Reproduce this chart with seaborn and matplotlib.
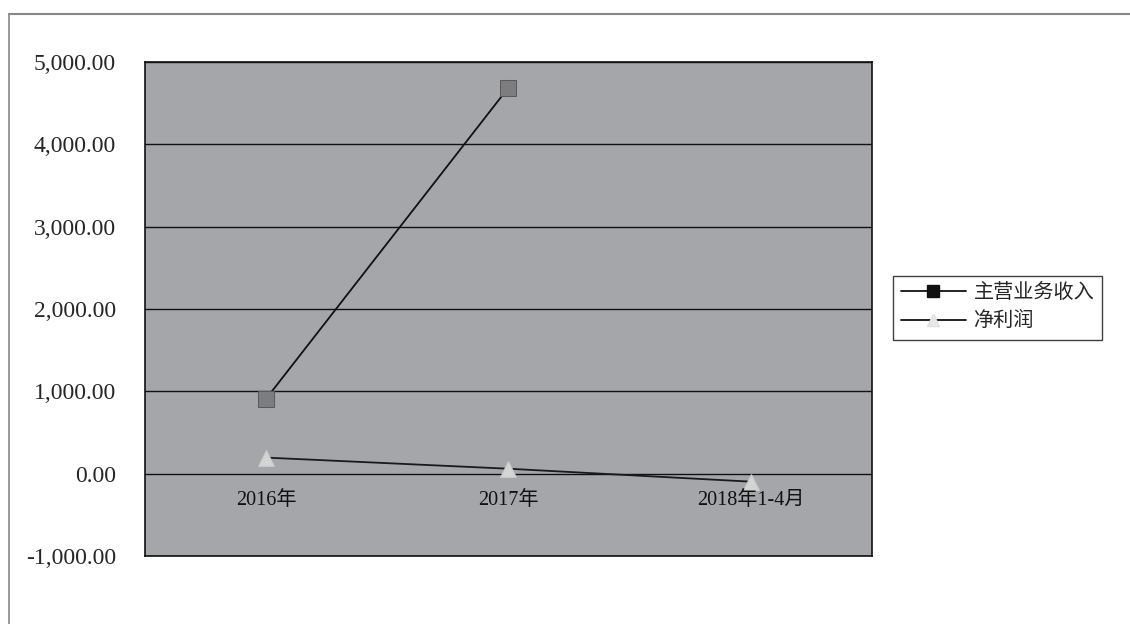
import numpy as np
import pandas as pd
import matplotlib
matplotlib.use("Agg")
import matplotlib.pyplot as plt
import seaborn as sns
from matplotlib.lines import Line2D

# 数据
periods = ["2016年", "2017年", "2018年1-4月"]
revenue = [911, 4690, np.nan]      # 主营业务收入
net_profit = [195, 60, -97]        # 净利润
series_names = ["主营业务收入", "净利润"]
y_ticks = [-1000, 0, 1000, 2000, 3000, 4000, 5000]

df = pd.DataFrame({
    "period": periods * 2,
    "value": revenue + net_profit,
    "series": [series_names[0]] * 3 + [series_names[1]] * 3,
})
df["x"] = df["period"].map({p: i for i, p in enumerate(periods)})

sns.set_theme(style="white")
plt.rcParams["font.family"] = ["Liberation Serif", "Noto Sans CJK SC", "DejaVu Sans"]

fig = plt.figure(figsize=(11.3, 6.24), dpi=100)
ax = fig.add_axes([145 / 1130, 68 / 624, 727 / 1130, 494 / 624])
ax.set_facecolor("#a4a6a9")

sns.lineplot(data=df, x="x", y="value", hue="series", style="series",
             palette={series_names[0]: "#111111", series_names[1]: "#1a1a1a"},
             markers={series_names[0]: "s", series_names[1]: "^"},
             dashes=False, markersize=11, linewidth=1.3, ax=ax, legend=False)

# marker colours
for ln in ax.get_lines():
    if ln.get_marker() == "s":
        ln.set_markerfacecolor("#7d7d7f")
        ln.set_markeredgecolor("#5a5a5c")
    elif ln.get_marker() == "^":
        ln.set_markerfacecolor("#d4d4d4")
        ln.set_markeredgecolor("#c8c8c8")

ax.set_xlim(-0.5, len(periods) - 0.5)
ax.set_ylim(-1000, 5000)
ax.set_yticks(y_ticks)
ax.set_yticklabels([f"{v:,.2f}" for v in y_ticks], fontsize=17)
ax.tick_params(axis="y", length=0, pad=21)
ax.set_xticks([])
ax.set_xlabel("")
ax.set_ylabel("")
for yv in y_ticks:
    ax.axhline(yv, color="#111111", linewidth=1.0, zorder=1)
for s in ax.spines.values():
    s.set_color("#111111")
    s.set_linewidth(1.2)

# category labels sit just below the zero line
for i, p in enumerate(periods):
    ax.text(i, -210, p, ha="center", va="top", fontsize=14.5, color="#111111")

# legend
handles = [
    Line2D([], [], color="#111111", marker="s", markersize=8,
           markerfacecolor="#111111", linewidth=1.3),
    Line2D([], [], color="#111111", marker="^", markersize=8,
           markerfacecolor="#e8e8e8", markeredgecolor="#e0e0e0", linewidth=1.3),
]
leg = fig.legend(handles, series_names, loc="center left",
                 bbox_to_anchor=(893 / 1130, 1 - 308 / 624), fontsize=14.5,
                 frameon=True, fancybox=False, borderpad=0.4,
                 handlelength=3.2, handletextpad=0.4, labelspacing=0.45,
                 borderaxespad=0)
leg.get_frame().set_edgecolor("#111111")
leg.get_frame().set_linewidth(1.0)

# outer chart frame (top and left edges)
fig.add_artist(Line2D([9 / 1130, 1.0], [1 - 14 / 624] * 2, color="#888888",
                      linewidth=1.5, transform=fig.transFigure))
fig.add_artist(Line2D([9 / 1130] * 2, [0.0, 1 - 14 / 624], color="#888888",
                      linewidth=1.2, transform=fig.transFigure))

fig.savefig("out.png", dpi=100, facecolor="white")
